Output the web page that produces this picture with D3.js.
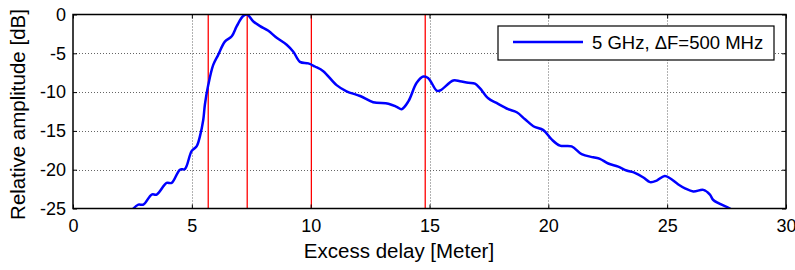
<!DOCTYPE html>
<html>
<head>
<meta charset="utf-8">
<script src="https://cdn.jsdelivr.net/npm/d3@7"></script>
<style>
  body { margin: 0; background: #fff; }
  svg { display: block; font-family: Arial, "Liberation Sans", sans-serif; }
</style>
</head>
<body>
<div id="chart"></div>
<script>
// Excess delay [m] and relative amplitude [dB]
const delay = [2.3, 2.54, 2.75, 2.96, 3.31, 3.52, 3.94, 4.15, 4.50, 4.71, 4.99, 5.20, 5.34, 5.48, 5.55, 5.69,
  5.90, 6.11, 6.39, 6.68, 6.89, 7.16, 7.33, 7.59, 7.87, 8.22, 8.57, 8.99, 9.27, 9.55, 9.90, 10.18,
  10.53, 11.09, 11.51, 12.08, 12.63, 13.27, 13.62, 13.83, 14.11, 14.46, 14.74, 14.95, 15.30, 15.44,
  16.00, 16.28, 16.63, 16.91, 17.12, 17.47, 17.82, 18.31, 18.67, 19.02, 19.37, 19.79, 20.14, 20.49,
  20.98, 21.40, 21.89, 22.17, 22.52, 22.94, 23.29, 23.64, 24.00, 24.28, 24.56, 24.90, 25.12, 25.47,
  25.75, 26.10, 26.52, 26.80, 26.94, 27.64, 27.9];
const amplitude = [-26.0, -25.0, -24.5, -24.5, -23.2, -23.2, -21.7, -21.7, -20.0, -19.9, -17.6, -17.0, -15.7, -13.6, -11.6, -9.1,
  -6.5, -5.2, -3.5, -2.8, -1.5, -0.2, 0, -0.9, -1.5, -2.1, -3.0, -3.9, -4.8, -6.1, -6.3, -6.7,
  -7.3, -9.1, -9.9, -10.5, -11.3, -11.5, -11.9, -12.2, -11.2, -8.8, -8.0, -8.2, -9.8, -9.8,
  -8.5, -8.6, -8.8, -8.9, -9.5, -10.8, -11.4, -12.2, -12.6, -13.5, -14.4, -14.9, -16.1, -16.9,
  -17.0, -18.0, -18.4, -18.6, -19.2, -19.6, -20.1, -20.4, -21.0, -21.6, -21.4, -20.8, -21.1, -21.9,
  -22.4, -22.8, -22.6, -23.2, -23.9, -25.0, -25.5];
// red marker lines
const markers = [5.69, 7.33, 10.03, 14.82];
const xTicks = [0, 5, 10, 15, 20, 25, 30];
const yTicks = [0, -5, -10, -15, -20, -25];
const seriesName = "5 GHz, \u0394F=500 MHz";

const W = 795, H = 270;
const margin = { left: 73, right: 9, top: 14.5, bottom: 61.5 };

const svg = d3.select("#chart").append("svg")
  .attr("width", W).attr("height", H);

const x = d3.scaleLinear().domain([0, 30]).range([margin.left, W - margin.right]);
const y = d3.scaleLinear().domain([-25, 0]).range([H - margin.bottom, margin.top]);

// grid
const grid = svg.append("g").attr("stroke", "#000").attr("stroke-width", 1)
  .attr("stroke-dasharray", "1,2").attr("opacity", 0.6);
grid.selectAll("line.gx").data(xTicks.slice(1, -1)).join("line")
  .attr("x1", d => Math.round(x(d)) + 0.5).attr("x2", d => Math.round(x(d)) + 0.5)
  .attr("y1", y(0)).attr("y2", y(-25));
grid.selectAll("line.gy").data(yTicks.slice(1, -1)).join("line")
  .attr("y1", d => Math.round(y(d)) + 0.5).attr("y2", d => Math.round(y(d)) + 0.5)
  .attr("x1", x(0)).attr("x2", x(30));

// clip region
svg.append("clipPath").attr("id", "clip").append("rect")
  .attr("x", x(0)).attr("y", y(0)).attr("width", x(30) - x(0)).attr("height", y(-25) - y(0));

// red lines
svg.append("g").selectAll("line").data(markers).join("line")
  .attr("x1", d => x(d)).attr("x2", d => x(d))
  .attr("y1", y(0)).attr("y2", y(-25))
  .attr("stroke", "#ff0000").attr("stroke-width", 1.3);

// curve
const pts = delay.map((d, i) => [d, amplitude[i]]);
const line = d3.line().x(d => x(d[0])).y(d => y(d[1])).curve(d3.curveCatmullRom.alpha(0.5));
svg.append("path").datum(pts)
  .attr("clip-path", "url(#clip)")
  .attr("d", line)
  .attr("fill", "none").attr("stroke", "#0000ff").attr("stroke-width", 2.5)
  .attr("stroke-linejoin", "round");

// axes (ticks inward, on all four sides)
const tick = 4;
const xAxisB = d3.axisBottom(x).tickValues(xTicks).tickSize(-tick).tickPadding(11).tickFormat(d3.format("d"));
const xAxisT = d3.axisTop(x).tickValues(xTicks).tickSize(-tick).tickFormat("");
const yAxisL = d3.axisLeft(y).tickValues(yTicks).tickSize(-tick).tickPadding(7).tickFormat(d => d);
const yAxisR = d3.axisRight(y).tickValues(yTicks).tickSize(-tick).tickFormat("");

function styleAxis(g) {
  g.select(".domain").remove();
  g.selectAll("line").attr("stroke", "#000");
  g.selectAll("text").attr("font-size", 18).attr("fill", "#000")
    .attr("font-family", "Arial, 'Liberation Sans', sans-serif");
}
svg.append("g").attr("transform", `translate(0,${y(-25)})`).call(xAxisB).call(styleAxis);
svg.append("g").attr("transform", `translate(0,${y(0)})`).call(xAxisT).call(styleAxis);
svg.append("g").attr("transform", `translate(${x(0)},0)`).call(yAxisL).call(styleAxis);
svg.append("g").attr("transform", `translate(${x(30)},0)`).call(yAxisR).call(styleAxis);

// frame
svg.append("rect")
  .attr("x", x(0)).attr("y", y(0)).attr("width", x(30) - x(0)).attr("height", y(-25) - y(0))
  .attr("fill", "none").attr("stroke", "#000").attr("stroke-width", 1.5);

// axis labels
svg.append("text").attr("x", 399).attr("y", 258).attr("text-anchor", "middle")
  .attr("font-size", 20.5).text("Excess delay [Meter]");
svg.append("text").attr("transform", `translate(25,${(y(0) + y(-25)) / 2 + 3}) rotate(-90)`)
  .attr("text-anchor", "middle").attr("font-size", 20.5).text("Relative amplitude [dB]");

// legend
const lg = svg.append("g").attr("transform", "translate(498,26)");
lg.append("rect").attr("width", 276).attr("height", 34)
  .attr("fill", "#fff").attr("stroke", "#000").attr("stroke-width", 1.2);
lg.append("line").attr("x1", 15).attr("x2", 85).attr("y1", 16).attr("y2", 16)
  .attr("stroke", "#0000ff").attr("stroke-width", 2.5);
lg.append("text").attr("x", 94).attr("y", 23).attr("font-size", 18.5).text(seriesName);
</script>
</body>
</html>
